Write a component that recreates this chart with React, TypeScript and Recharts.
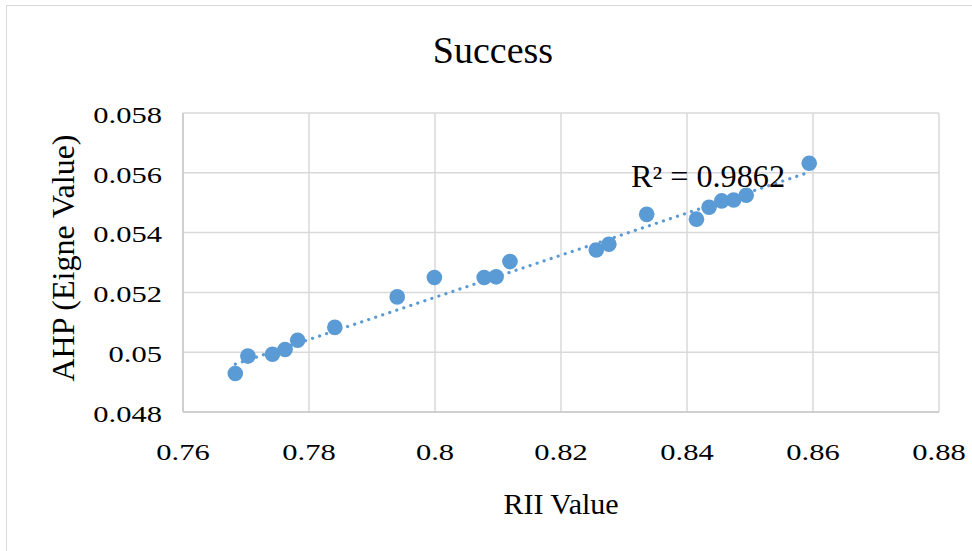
import React from "react";
import {
  ScatterChart,
  Scatter,
  XAxis,
  YAxis,
  CartesianGrid,
  ReferenceLine,
} from "recharts";

// ---- data ----
const riiValues = [
  0.7683, 0.7703, 0.7742, 0.7762, 0.7782, 0.7841, 0.794, 0.7999, 0.8078, 0.8097,
  0.8119, 0.8256, 0.8276, 0.8336, 0.8415, 0.8435, 0.8455, 0.8474, 0.8494, 0.8594,
];
const ahpValues = [
  0.04929, 0.04987, 0.04993, 0.05009, 0.0504, 0.05083, 0.05185, 0.0525, 0.0525, 0.05252,
  0.05303, 0.05342, 0.05361, 0.05461, 0.05445, 0.05485, 0.05506, 0.05509, 0.05525, 0.05632,
];
const trendX = [0.7683, 0.8594];
const trendY = [0.0496, 0.05602];
const xTicks = [0.76, 0.78, 0.8, 0.82, 0.84, 0.86, 0.88];
const xTickLabels = ["0.76", "0.78", "0.8", "0.82", "0.84", "0.86", "0.88"];
const yTicks = [0.048, 0.05, 0.052, 0.054, 0.056, 0.058];
const yTickLabels = ["0.048", "0.05", "0.052", "0.054", "0.056", "0.058"];
const chartTitle = "Success";
const xTitle = "RII Value";
const yTitle = "AHP (Eigne Value)";
const r2Label = "R² = 0.9862";

const points = riiValues.map((x, i) => ({ x, y: ahpValues[i] }));
const trendSegment = trendX.map((x, i) => ({ x, y: trendY[i] }));

const FONT = "'Liberation Serif', 'Times New Roman', serif";
const BLUE = "#5B9BD5";
const GRID = "#D9D9D9";

function SText(props: any) {
  const { x, y, sx = 1, size, anchor = "middle", rotate = 0, children } = props;
  return (
    <g transform={`translate(${x},${y}) rotate(${rotate}) scale(${sx},1)`}>
      <text
        x={0}
        y={0}
        textAnchor={anchor}
        dominantBaseline="central"
        fontFamily={FONT}
        fontSize={size}
        fill="#000"
      >
        {children}
      </text>
    </g>
  );
}

function XTick(props: any) {
  const { x, y, payload } = props;
  const idx = xTicks.indexOf(payload.value);
  const label = idx >= 0 ? xTickLabels[idx] : String(payload.value);
  return (
    <SText x={x} y={y + 40} sx={1.3} size={23.5}>
      {label}
    </SText>
  );
}

function YTick(props: any) {
  const { x, y, payload } = props;
  const idx = yTicks.indexOf(payload.value);
  const label = idx >= 0 ? yTickLabels[idx] : String(payload.value);
  return (
    <SText x={x - 21} y={y + 2} sx={1.3} size={23.5} anchor="end">
      {label}
    </SText>
  );
}

function Dot(props: any) {
  const { cx, cy } = props;
  return <circle cx={cx} cy={cy} r={7.8} fill={BLUE} />;
}

export default function App() {
  return (
    <div
      style={{
        position: "absolute",
        left: 0,
        top: 0,
        width: 972,
        height: 551,
        overflow: "hidden",
        background: "#fff",
      }}
    >
      <div
        style={{
          position: "absolute",
          left: 6,
          top: 5,
          width: 1000,
          height: 600,
          border: "1.5px solid #D9D9D9",
        }}
      />
      <div style={{ position: "absolute", left: 0, top: 0 }}>
        <ScatterChart
          width={972}
          height={551}
          margin={{ top: 113, right: 33, bottom: 0, left: 0 }}
        >
          <CartesianGrid stroke={GRID} strokeWidth={1.5} />
          <XAxis
            type="number"
            dataKey="x"
            domain={[0.76, 0.88]}
            ticks={xTicks}
            interval={0}
            height={139}
            tickSize={0}
            tickMargin={0}
            tickLine={false}
            axisLine={{ stroke: "#C8C8C8", strokeWidth: 1.5 }}
            tick={<XTick />}
            allowDataOverflow
          />
          <YAxis
            type="number"
            dataKey="y"
            domain={[0.048, 0.058]}
            ticks={yTicks}
            interval={0}
            width={183}
            tickSize={0}
            tickMargin={0}
            tickLine={false}
            axisLine={{ stroke: "#C8C8C8", strokeWidth: 1.5 }}
            tick={<YTick />}
            allowDataOverflow
          />
          <ReferenceLine
            segment={trendSegment}
            stroke={BLUE}
            strokeWidth={3.2}
            strokeDasharray="0.1 7.3"
            strokeLinecap="round"
            ifOverflow="visible"
          />
          <Scatter
            data={points}
            fill={BLUE}
            shape={<Dot />}
            isAnimationActive={false}
          />
        </ScatterChart>
      </div>
      <svg
        width={972}
        height={551}
        style={{ position: "absolute", left: 0, top: 0, pointerEvents: "none" }}
      >
        <SText x={493} y={50} size={38} sx={1.0}>
          {chartTitle}
        </SText>
        <SText x={561} y={503} size={30} sx={1.0}>
          {xTitle}
        </SText>
        <SText x={63} y={258} size={32} sx={1.0} rotate={-90}>
          {yTitle}
        </SText>
        <SText x={708} y={177} size={31} sx={1.04}>
          {r2Label}
        </SText>
      </svg>
    </div>
  );
}
